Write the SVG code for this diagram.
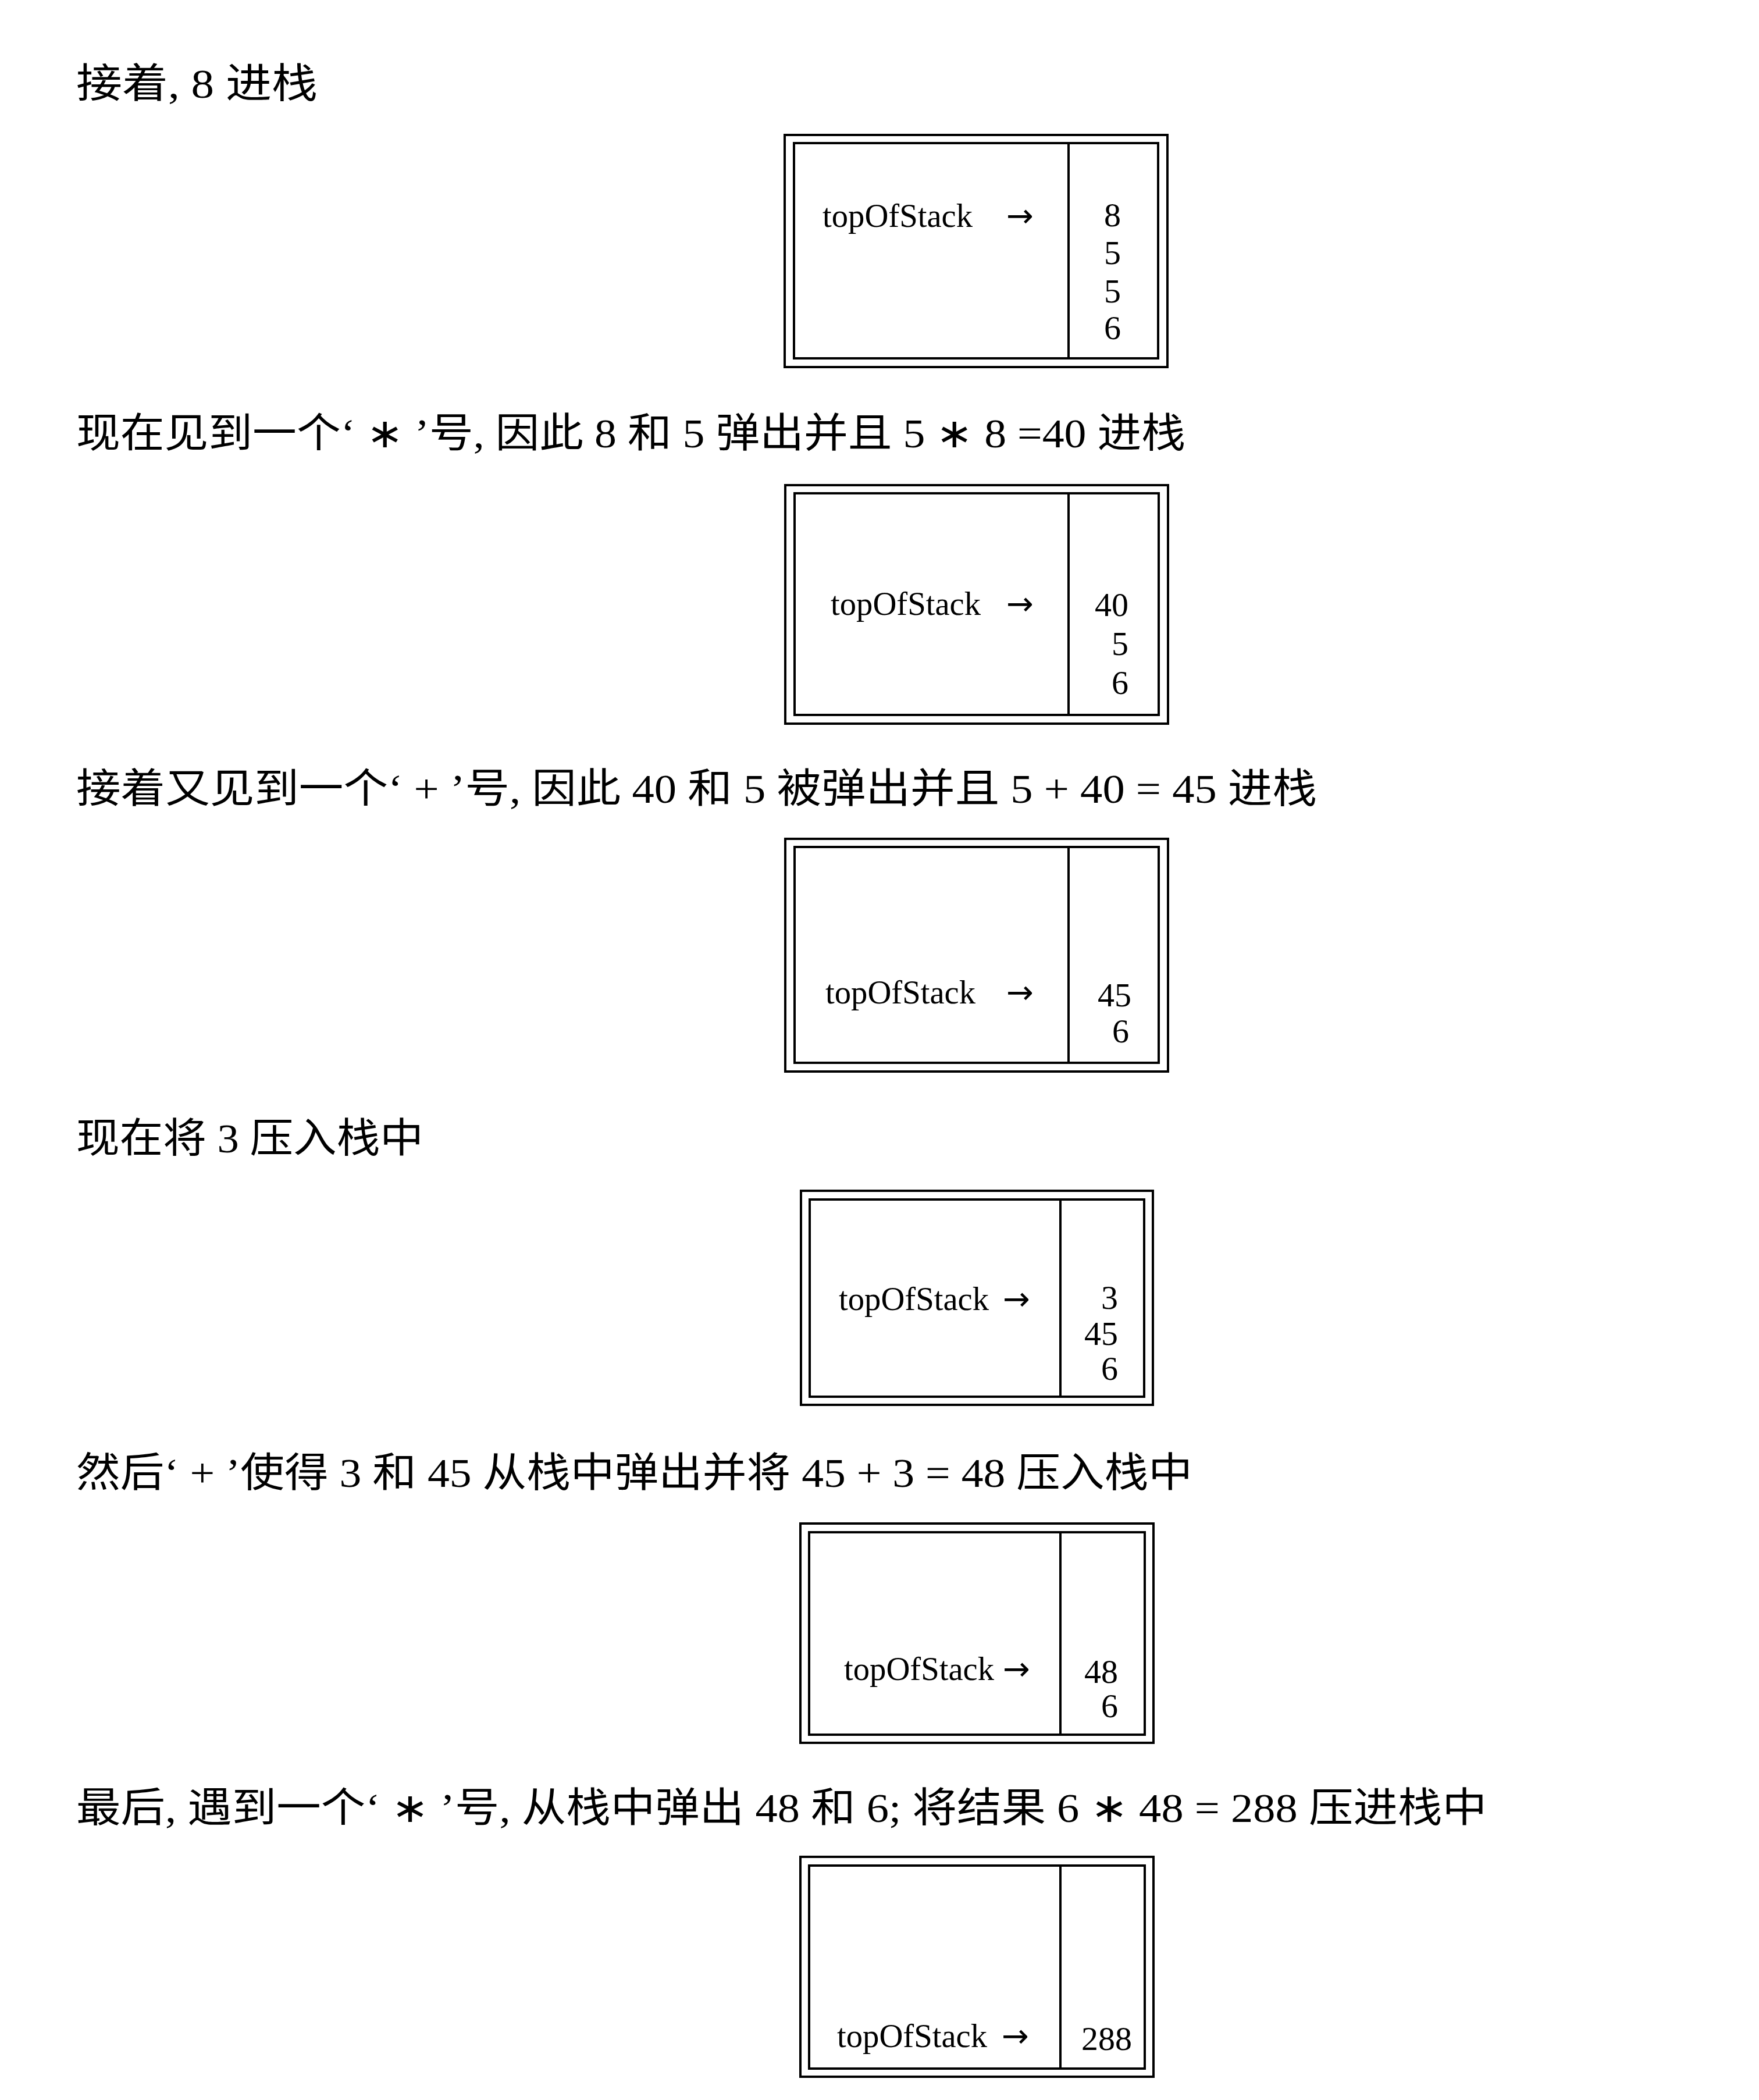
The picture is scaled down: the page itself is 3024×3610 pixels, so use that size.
<svg xmlns="http://www.w3.org/2000/svg" width="3024" height="3610" viewBox="0 0 3024 3610">
<style>
.bg{fill:#fff}
.outer,.inner{fill:none;stroke:#000;stroke-width:4}
.div{stroke:#000;stroke-width:4}
.h{font-family:"Liberation Serif","Noto Sans CJK SC",serif;font-size:70px;fill:#000}
.t{font-family:"Liberation Serif",serif;font-size:57px;fill:#000}
.a{font-family:"DejaVu Sans",sans-serif;font-size:56px;fill:#000}
.n{font-family:"Liberation Serif",serif;font-size:58px;fill:#000;text-anchor:end}
</style>
<rect class="bg" x="0" y="0" width="3024" height="3610"/>
<g id="captions">
<text class="h" x="131" y="168" textLength="415" lengthAdjust="spacingAndGlyphs">接着, 8 进栈</text>
<text class="h" x="131" y="769" textLength="1907" lengthAdjust="spacingAndGlyphs">现在见到一个‘ ∗ ’号, 因此 8 和 5 弹出并且 5 ∗ 8 =40 进栈</text>
<text class="h" x="131" y="1380" textLength="2133" lengthAdjust="spacingAndGlyphs">接着又见到一个‘ + ’号, 因此 40 和 5 被弹出并且 5 + 40 = 45 进栈</text>
<text class="h" x="131" y="1981" textLength="597" lengthAdjust="spacingAndGlyphs">现在将 3 压入栈中</text>
<text class="h" x="131" y="2556" textLength="1919" lengthAdjust="spacingAndGlyphs">然后‘ + ’使得 3 和 45 从栈中弹出并将 45 + 3 = 48 压入栈中</text>
<text class="h" x="131" y="3132" textLength="2425" lengthAdjust="spacingAndGlyphs">最后, 遇到一个‘ ∗ ’号, 从栈中弹出 48 和 6; 将结果 6 ∗ 48 = 288 压进栈中</text>
</g>
<g id="stack1">
<rect class="outer" x="1349" y="232" width="658" height="399"/>
<rect class="inner" x="1365" y="246" width="626" height="370"/>
<line class="div" x1="1837" y1="246" x2="1837" y2="616"/>
<text class="t" x="1414" y="390" textLength="258" lengthAdjust="spacingAndGlyphs">topOfStack</text>
<text class="a" x="1730" y="390">→</text>
<text class="n" x="1927" y="389">8</text>
<text class="n" x="1927" y="454">5</text>
<text class="n" x="1927" y="520">5</text>
<text class="n" x="1927" y="583">6</text>
</g>
<g id="stack2">
<rect class="outer" x="1350" y="834" width="658" height="410"/>
<rect class="inner" x="1366" y="848" width="626" height="381"/>
<line class="div" x1="1837" y1="848" x2="1837" y2="1229"/>
<text class="t" x="1428" y="1057" textLength="258" lengthAdjust="spacingAndGlyphs">topOfStack</text>
<text class="a" x="1730" y="1057">→</text>
<text class="n" x="1940" y="1059">40</text>
<text class="n" x="1940" y="1126">5</text>
<text class="n" x="1940" y="1193">6</text>
</g>
<g id="stack3">
<rect class="outer" x="1350" y="1442" width="658" height="400"/>
<rect class="inner" x="1366" y="1456" width="626" height="371"/>
<line class="div" x1="1837" y1="1456" x2="1837" y2="1827"/>
<text class="t" x="1419" y="1725" textLength="258" lengthAdjust="spacingAndGlyphs">topOfStack</text>
<text class="a" x="1730" y="1725">→</text>
<text class="n" x="1945" y="1730">45</text>
<text class="n" x="1941" y="1792">6</text>
</g>
<g id="stack4">
<rect class="outer" x="1377" y="2047" width="605" height="368"/>
<rect class="inner" x="1392" y="2062" width="575" height="339"/>
<line class="div" x1="1823" y1="2062" x2="1823" y2="2401"/>
<text class="t" x="1442" y="2252" textLength="258" lengthAdjust="spacingAndGlyphs">topOfStack</text>
<text class="a" x="1724" y="2252">→</text>
<text class="n" x="1922" y="2250">3</text>
<text class="n" x="1922" y="2312">45</text>
<text class="n" x="1922" y="2372">6</text>
</g>
<g id="stack5">
<rect class="outer" x="1376" y="2619" width="607" height="377"/>
<rect class="inner" x="1391" y="2634" width="577" height="348"/>
<line class="div" x1="1823" y1="2634" x2="1823" y2="2982"/>
<text class="t" x="1451" y="2888" textLength="258" lengthAdjust="spacingAndGlyphs">topOfStack</text>
<text class="a" x="1724" y="2888">→</text>
<text class="n" x="1922" y="2893">48</text>
<text class="n" x="1922" y="2952">6</text>
</g>
<g id="stack6">
<rect class="outer" x="1376" y="3192" width="607" height="378"/>
<rect class="inner" x="1391" y="3207" width="577" height="349"/>
<line class="div" x1="1823" y1="3207" x2="1823" y2="3556"/>
<text class="t" x="1439" y="3519" textLength="258" lengthAdjust="spacingAndGlyphs">topOfStack</text>
<text class="a" x="1722" y="3519">→</text>
<text class="n" x="1946" y="3524">288</text>
</g>
<g id="connectors"></g>
</svg>
